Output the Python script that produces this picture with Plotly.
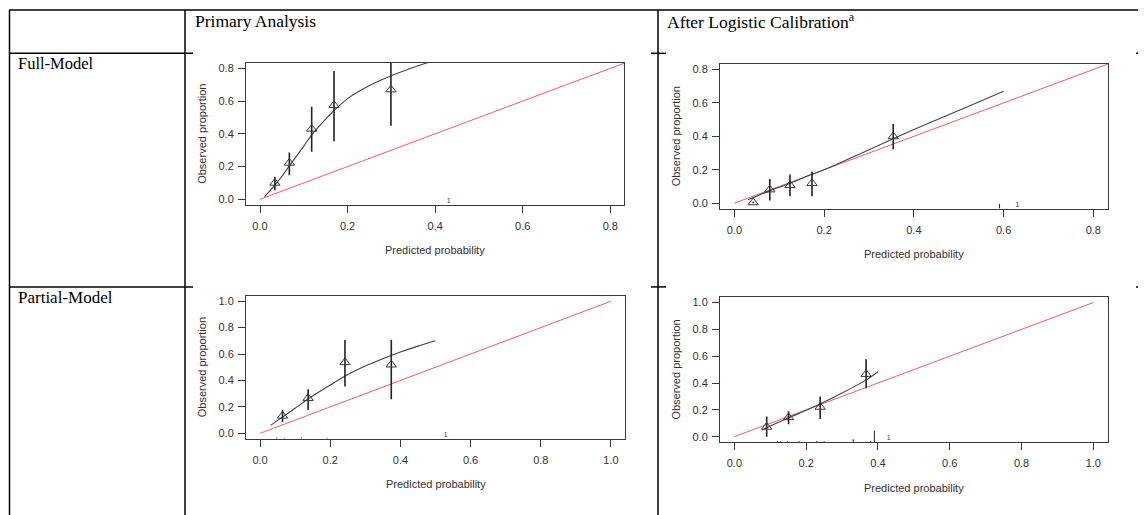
import plotly.graph_objects as go

W, H = 1146, 515
OFF = 8  # page body margin shifts the figure by 8px


def fx(px):
    return (px - OFF) / W


def fy(py):
    return 1 - (py - OFF) / H


# --- Primary analysis, Full-Model
full_x = [0.034, 0.067, 0.118, 0.169, 0.299]
full_y = [0.100, 0.222, 0.430, 0.575, 0.670]
full_lo = [0.055, 0.147, 0.290, 0.355, 0.449]
full_hi = [0.137, 0.286, 0.565, 0.784, 0.900]
full_curve_x = [0.01, 0.03, 0.05, 0.07, 0.10, 0.12, 0.15, 0.17, 0.20, 0.25, 0.30, 0.35, 0.40]
full_curve_y = [0.015, 0.075, 0.14, 0.215, 0.325, 0.40, 0.49, 0.545, 0.615, 0.695, 0.755, 0.805, 0.85]
full_rug_x = []
full_rug_h = []
full_one = 0.431

# --- After logistic calibration, Full-Model
fullcal_x = [0.042, 0.079, 0.124, 0.173, 0.354]
fullcal_y = [0.004, 0.081, 0.107, 0.119, 0.399]
fullcal_lo = [0.000, 0.016, 0.042, 0.042, 0.322]
fullcal_hi = [0.008, 0.145, 0.171, 0.190, 0.474]
fullcal_curve_x = [0.03, 0.08, 0.12, 0.17, 0.20, 0.30, 0.40, 0.50, 0.60]
fullcal_curve_y = [0.02, 0.075, 0.115, 0.17, 0.20, 0.32, 0.44, 0.555, 0.67]
fullcal_rug_x = [0.591]
fullcal_rug_h = [0.035]
fullcal_one = 0.631

# --- Primary analysis, Partial-Model
part_x = [0.064, 0.137, 0.242, 0.374]
part_y = [0.132, 0.266, 0.537, 0.519]
part_lo = [0.086, 0.177, 0.354, 0.258]
part_hi = [0.177, 0.334, 0.706, 0.709]
part_curve_x = [0.03, 0.06, 0.10, 0.14, 0.20, 0.25, 0.30, 0.35, 0.40, 0.45, 0.50]
part_curve_y = [0.06, 0.115, 0.19, 0.265, 0.365, 0.445, 0.51, 0.565, 0.615, 0.66, 0.70]
part_rug_x = [0.048, 0.069, 0.118, 0.191]
part_rug_h = [0.008, 0.006, 0.008, 0.006]
part_one = 0.529

# --- After logistic calibration, Partial-Model
partcal_x = [0.090, 0.151, 0.239, 0.367]
partcal_y = [0.072, 0.144, 0.221, 0.466]
partcal_lo = [0.000, 0.092, 0.132, 0.360]
partcal_hi = [0.151, 0.190, 0.300, 0.578]
partcal_curve_x = [0.078, 0.15, 0.20, 0.24, 0.30, 0.37, 0.40]
partcal_curve_y = [0.052, 0.139, 0.196, 0.245, 0.325, 0.427, 0.484]
partcal_rug_x = [0.120, 0.129, 0.148, 0.180, 0.230, 0.250, 0.331, 0.380, 0.390]
partcal_rug_h = [0.006, 0.006, 0.006, 0.006, 0.008, 0.006, 0.020, 0.008, 0.085]
partcal_one = 0.430

ideal = [0, 1]
ticks_08 = [0, 0.2, 0.4, 0.6, 0.8]
ticks_10 = [0, 0.2, 0.4, 0.6, 0.8, 1.0]

panels = [
    dict(x=full_x, y=full_y, lo=full_lo, hi=full_hi, cx=full_curve_x, cy=full_curve_y,
         rx=full_rug_x, rh=full_rug_h, one=full_one, lim=0.8, ticks=ticks_08,
         box=(246, 624.3, 62.3, 204.3)),
    dict(x=fullcal_x, y=fullcal_y, lo=fullcal_lo, hi=fullcal_hi, cx=fullcal_curve_x, cy=fullcal_curve_y,
         rx=fullcal_rug_x, rh=fullcal_rug_h, one=fullcal_one, lim=0.8, ticks=ticks_08,
         box=(720, 1107.7, 63.3, 208.3)),
    dict(x=part_x, y=part_y, lo=part_lo, hi=part_hi, cx=part_curve_x, cy=part_curve_y,
         rx=part_rug_x, rh=part_rug_h, one=part_one, lim=1.0, ticks=ticks_10,
         box=(246, 625, 296, 439.3)),
    dict(x=partcal_x, y=partcal_y, lo=partcal_lo, hi=partcal_hi, cx=partcal_curve_x, cy=partcal_curve_y,
         rx=partcal_rug_x, rh=partcal_rug_h, one=partcal_one, lim=1.0, ticks=ticks_10,
         box=(720, 1107.7, 297.3, 442.7)),
]

INK = "#3a3a3a"
RED = "#ff5a5a"
SANS = "Liberation Sans, Arial, sans-serif"
SERIF = "Liberation Serif, Times New Roman, serif"

fig = go.Figure()
annotations = []
layout_axes = {}

for i, p in enumerate(panels, start=1):
    sfx = "" if i == 1 else str(i)
    xa, ya = "x" + sfx, "y" + sfx
    lim = p["lim"]
    lo_r, hi_r = -0.04 * lim, lim * 1.04
    bottom = lo_r

    # ideal line
    fig.add_trace(go.Scatter(x=ideal, y=ideal, mode="lines", xaxis=xa, yaxis=ya,
                             line=dict(color=RED, width=1), showlegend=False, hoverinfo="skip"))
    # smooth calibration curve
    fig.add_trace(go.Scatter(x=p["cx"], y=p["cy"], mode="lines", xaxis=xa, yaxis=ya,
                             line=dict(color="#444444", width=1.1, shape="spline", smoothing=0.8),
                             showlegend=False))
    # grouped observed proportions with CI
    fig.add_trace(go.Scatter(
        x=p["x"], y=p["y"], mode="markers", xaxis=xa, yaxis=ya,
        marker=dict(symbol="triangle-up-open", size=9, color=INK, line=dict(width=1, color=INK)),
        error_y=dict(type="data", symmetric=False,
                     array=[h - v for h, v in zip(p["hi"], p["y"])],
                     arrayminus=[v - l for v, l in zip(p["y"], p["lo"])],
                     width=0, thickness=1.6, color="#222222"),
        showlegend=False))
    # spike histogram of predictions
    rx, ry = [], []
    for xv, hv in zip(p["rx"], p["rh"]):
        rx += [xv, xv, None]
        ry += [bottom, bottom + hv * lim, None]
    if rx:
        fig.add_trace(go.Scatter(x=rx, y=ry, mode="lines", xaxis=xa, yaxis=ya,
                                 line=dict(color="#222222", width=1), showlegend=False))
    fig.add_trace(go.Scatter(x=[p["one"]], y=[-0.012 * lim], mode="text", text=["1"],
                             textfont=dict(size=7, color=INK, family=SANS), xaxis=xa, yaxis=ya,
                             showlegend=False))

    x0, x1, y0, y1 = p["box"]
    ax = dict(range=[lo_r, hi_r], showgrid=False, zeroline=False, showline=True, mirror=True,
              linecolor=INK, linewidth=1, ticks="outside", ticklen=7, tickcolor=INK,
              tickvals=p["ticks"], tickformat=".1f",
              tickfont=dict(family=SANS, size=11, color="#333333"))
    layout_axes["xaxis" + sfx] = dict(ax, domain=[fx(x0), fx(x1)], anchor=ya, ticklabelstandoff=4)
    layout_axes["yaxis" + sfx] = dict(ax, domain=[fy(y1), fy(y0)], anchor=xa, ticklabelstandoff=2)

    annotations.append(dict(text="Predicted probability", xref="paper", yref="paper",
                            x=fx((x0 + x1) / 2), y=fy(y1 + 46), showarrow=False,
                            xanchor="center", yanchor="middle",
                            font=dict(family=SANS, size=11, color="#333333")))
    annotations.append(dict(text="Observed proportion", xref="paper", yref="paper",
                            x=fx(x0 - 44), y=fy((y0 + y1) / 2), showarrow=False, textangle=-90,
                            xanchor="center", yanchor="middle",
                            font=dict(family=SANS, size=11, color="#333333")))

# table texts
for txt, px, py, sz in [("Primary Analysis", 193, 20, 17.5),
                        ("After Logistic Calibration<sup>a</sup>", 665, 20, 17.5),
                        ("Full-Model", 16, 63, 16.5), ("Partial-Model", 16, 298, 17)]:
    annotations.append(dict(text=txt, xref="paper", yref="paper", x=fx(px), y=fy(py),
                            xanchor="left", yanchor="middle", showarrow=False,
                            font=dict(family=SERIF, size=sz, color="black")))

# table rules
segs = [
    (9, 9, 1143, 9), (9.5, 9, 9.5, 530), (185, 9, 185, 530), (658, 9, 658, 530), (1143, 9, 1143, 530),
    (9, 52.5, 193, 52.5), (651, 52.5, 666, 52.5), (1136, 52.5, 1143, 52.5),
    (9, 287, 193, 287), (651, 287, 666, 287), (1136, 287, 1143, 287),
]
shapes = [dict(type="line", xref="paper", yref="paper", x0=fx(a), y0=fy(b), x1=fx(c), y1=fy(d),
               line=dict(color="black", width=1.5)) for a, b, c, d in segs]

fig.update_layout(width=W, height=H, margin=dict(l=0, r=0, t=0, b=0),
                  paper_bgcolor="white", plot_bgcolor="white",
                  annotations=annotations, shapes=shapes, **layout_axes)

fig.write_html("out.html")
